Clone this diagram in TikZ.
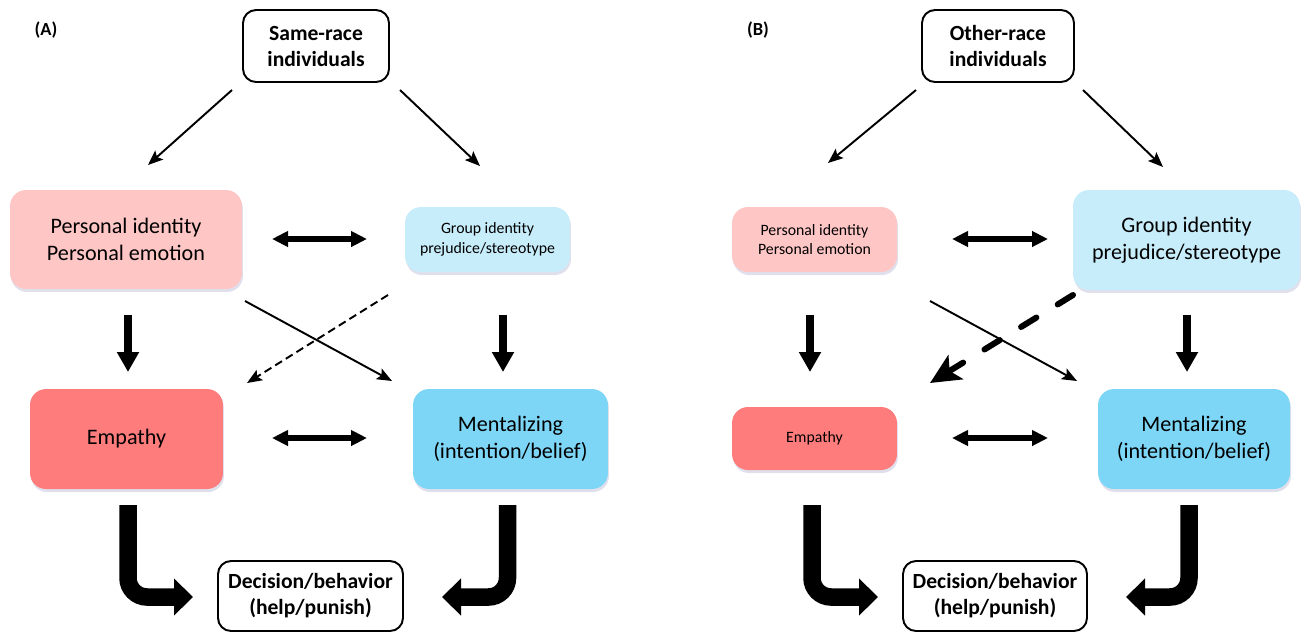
\documentclass[tikz,border=0pt]{standalone}
\usepackage{fontspec}
\setmainfont{Carlito}
\usetikzlibrary{arrows.meta,shadows}
\definecolor{pinkL}{HTML}{FFC6C6}
\definecolor{blueL}{HTML}{C8EDFA}
\definecolor{redM}{HTML}{FF7C7C}
\definecolor{blueM}{HTML}{7ED6F6}
\begin{document}
\begin{tikzpicture}[x=0.02cm,y=-0.02cm,
  cbox/.style={rectangle, rounded corners=0.32cm, inner sep=0pt, align=center,
    drop shadow={shadow xshift=0.02cm, shadow yshift=-0.06cm, opacity=0.12, fill=blue!40!black}},
  wbox/.style={rectangle, rounded corners=0.26cm, draw, line width=1.1pt, fill=white, inner sep=0pt, align=center,
    font=\bfseries\fontsize{12.3}{14.8}\selectfont},
  bigtxt/.style={font=\fontsize{12.6}{15.3}\selectfont},
  smalltxt/.style={font=\fontsize{9}{11.3}\selectfont},
  panel/.style={font=\bfseries\fontsize{10.5}{12}\selectfont},
  thinarr/.style={line width=1.1pt, -{Stealth[length=0.3cm,width=0.24cm,inset=0.06cm]}},
  downarr/.style={line width=0.17cm, -{Triangle[length=0.4cm,width=0.42cm]}},
  dblarr/.style={line width=0.12cm, {Triangle[length=0.32cm,width=0.3cm]}-{Triangle[length=0.32cm,width=0.3cm]}},
  dasharr/.style={line width=1.1pt, dash pattern=on 0.16cm off 0.09cm, -{Stealth[length=0.3cm,width=0.24cm,inset=0.06cm]}},
  bigdash/.style={line width=0.12cm, line cap=round, dash pattern=on 0.36cm off 0.5cm, -{Stealth[length=0.6cm,width=0.56cm,inset=0.14cm]}},
  curvarr/.style={line width=0.35cm, rounded corners=0.38cm, -{Triangle[length=0.38cm,width=0.72cm]}}
]
\useasboundingbox (0,0) rectangle (1304,633);

% ---------------- Panel A ----------------
\node[panel] (labA) at (46,30) {(A)};
\node[wbox, minimum width=2.92cm, minimum height=1.44cm] (topA) at (316,46) {Same-race\\individuals};
\node[cbox, fill=pinkL, bigtxt, minimum width=4.64cm, minimum height=1.98cm] (persA) at (126,239.5) {Personal identity\\Personal emotion};
\node[cbox, fill=blueL, smalltxt, minimum width=3.3cm, minimum height=1.3cm] (grpA) at (487.5,239.5) {Group identity\\prejudice/stereotype};
\node[cbox, fill=redM, bigtxt, minimum width=3.86cm, minimum height=2.0cm] (empA) at (126.5,439) {Empathy};
\node[cbox, fill=blueM, bigtxt, minimum width=3.9cm, minimum height=2.0cm] (mentA) at (510.5,439) {Mentalizing\\(intention/belief)};
\node[wbox, minimum width=3.7cm, minimum height=1.4cm] (decA) at (310.5,596) {Decision/behavior\\(help/punish)};

\coordinate (a1s) at (232,90);  \coordinate (a1e) at (148,165);
\coordinate (a2s) at (400,90);  \coordinate (a2e) at (480,166);
\coordinate (a3s) at (272,239); \coordinate (a3e) at (367,239);
\coordinate (a4s) at (272,438); \coordinate (a4e) at (367,438);
\coordinate (a5s) at (128,315); \coordinate (a5e) at (128,372);
\coordinate (a6s) at (503,315); \coordinate (a6e) at (503,372);
\coordinate (a7s) at (245,301); \coordinate (a7e) at (392,381);
\coordinate (a8s) at (388,295); \coordinate (a8e) at (247,383);
\coordinate (a9s) at (128,505); \coordinate (a9e) at (193,597);
\coordinate (a10s) at (507.5,505); \coordinate (a10e) at (442,597);

\draw[thinarr] (a1s) -- (a1e);
\draw[thinarr] (a2s) -- (a2e);
\draw[dblarr] (a3s) -- (a3e);
\draw[dblarr] (a4s) -- (a4e);
\draw[downarr] (a5s) -- (a5e);
\draw[downarr] (a6s) -- (a6e);
\draw[thinarr] (a7s) -- (a7e);
\draw[dasharr] (a8s) -- (a8e);
\draw[curvarr] (a9s) |- (a9e);
\draw[curvarr] (a10s) |- (a10e);

% ---------------- Panel B ----------------
\node[panel] (labB) at (758,30) {(B)};
\node[wbox, minimum width=3.04cm, minimum height=1.44cm] (topB) at (998,46) {Other-race\\individuals};
\node[cbox, fill=pinkL, smalltxt, minimum width=3.3cm, minimum height=1.3cm] (persB) at (814.5,239.5) {Personal identity\\Personal emotion};
\node[cbox, fill=blueL, bigtxt, minimum width=4.54cm, minimum height=2.0cm] (grpB) at (1186.5,240) {Group identity\\prejudice/stereotype};
\node[cbox, fill=redM, smalltxt, minimum width=3.3cm, minimum height=1.26cm] (empB) at (814.5,438.5) {Empathy};
\node[cbox, fill=blueM, bigtxt, minimum width=3.84cm, minimum height=2.0cm] (mentB) at (1194,439) {Mentalizing\\(intention/belief)};
\node[wbox, minimum width=3.68cm, minimum height=1.4cm] (decB) at (995,596) {Decision/behavior\\(help/punish)};

\coordinate (b1s) at (916,90);   \coordinate (b1e) at (828,163);
\coordinate (b2s) at (1083,90);  \coordinate (b2e) at (1163,167);
\coordinate (b3s) at (952,239);  \coordinate (b3e) at (1048,239);
\coordinate (b4s) at (952,438);  \coordinate (b4e) at (1048,438);
\coordinate (b5s) at (810,315);  \coordinate (b5e) at (810,372);
\coordinate (b6s) at (1187,315); \coordinate (b6e) at (1187,372);
\coordinate (b7s) at (930,301);  \coordinate (b7e) at (1077,381);
\coordinate (b8s) at (1073,295); \coordinate (b8e) at (930,383);
\coordinate (b9s) at (812,505);  \coordinate (b9e) at (878,597);
\coordinate (b10s) at (1189,505); \coordinate (b10e) at (1126,597);

\draw[thinarr] (b1s) -- (b1e);
\draw[thinarr] (b2s) -- (b2e);
\draw[dblarr] (b3s) -- (b3e);
\draw[dblarr] (b4s) -- (b4e);
\draw[downarr] (b5s) -- (b5e);
\draw[downarr] (b6s) -- (b6e);
\draw[thinarr] (b7s) -- (b7e);
\draw[bigdash] (b8s) -- (b8e);
\draw[curvarr] (b9s) |- (b9e);
\draw[curvarr] (b10s) |- (b10e);
\end{tikzpicture}
\end{document}
